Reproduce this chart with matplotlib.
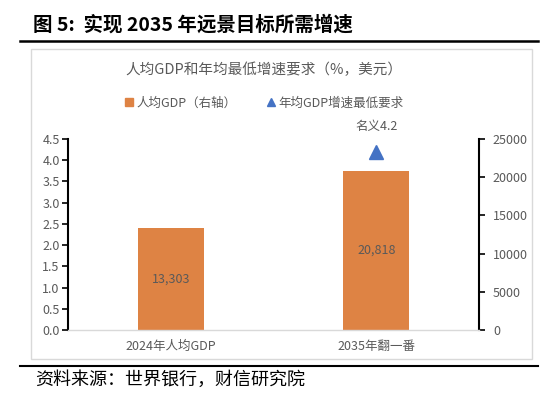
import matplotlib.pyplot as plt
from matplotlib.patches import Rectangle
from matplotlib.lines import Line2D

plt.rcParams['font.family'] = ['Noto Sans CJK SC', 'DejaVu Sans']

categories = ['2024年人均GDP', '2035年翻一番']
gdp_per_capita = [13303, 20818]
gdp_labels = ['13,303', '20,818']
growth_cat = [1]
growth_min = [4.2]
growth_label = ['名义4.2']

W, H = 550, 411
fig = plt.figure(figsize=(5.5, 4.11), dpi=100)

def fx(px):
    return px / W

def fy(py):
    return 1 - py / H

gray = '#595959'
orange = '#DE8344'
blue = '#4472C4'

# header / footer
fig.text(fx(33), fy(25), '图 5:  实现 2035 年远景目标所需增速', fontsize=14,
         fontweight='bold', color='black', va='center', ha='left')
fig.add_artist(Line2D([fx(20), fx(538)], [fy(41), fy(41)], color='black', lw=1.8))
fig.add_artist(Rectangle((fx(31), fy(359)), fx(532) - fx(31), fy(49) - fy(359),
                         transform=fig.transFigure, fill=False, edgecolor='#D9D9D9', lw=1))
fig.add_artist(Line2D([fx(20), fx(538)], [fy(366), fy(366)], color='black', lw=1.5))
fig.text(fx(35), fy(380), '资料来源：世界银行，财信研究院', fontsize=13,
         style='italic', color='black', va='center', ha='left')

# chart title
fig.text(fx(264), fy(70), '人均GDP和年均最低增速要求（%，美元）', fontsize=10.5,
         color=gray, va='center', ha='center')

ax = fig.add_axes([fx(68), fy(330), fx(479) - fx(68), fy(139) - fy(330)])
ax2 = ax.twinx()

x = list(range(len(categories)))
ax2.bar(x, gdp_per_capita, width=0.32, color=orange, zorder=2)
for xi, v, lab in zip(x, gdp_per_capita, gdp_labels):
    ax2.text(xi, v / 2, lab, ha='center', va='center', fontsize=9, color=gray)

ax2.set_ylim(0, 25000)
ax2.set_yticks(range(0, 25001, 5000))
ax.set_ylim(0, 4.5)
ax.set_yticks([i * 0.5 for i in range(10)])
ax.set_yticklabels([f'{i * 0.5:.1f}' for i in range(10)])
ax.set_xlim(-0.5, 1.5)
ax.set_xticks(x)
ax.set_xticklabels(categories)

ax.set_zorder(ax2.get_zorder() + 1)
ax.patch.set_visible(False)
ax.plot(growth_cat, growth_min, linestyle='none', marker='^', markersize=10,
        color=blue, zorder=3, clip_on=False)
for xi, v, lab in zip(growth_cat, growth_min, growth_label):
    ax.text(xi, v + 0.6, lab, ha='center', va='center', fontsize=9, color=gray)

for a in (ax, ax2):
    for s in a.spines.values():
        s.set_visible(False)
ax.spines['left'].set_visible(True)
ax.spines['left'].set_linewidth(1.5)
ax2.spines['right'].set_visible(True)
ax2.spines['right'].set_linewidth(1.5)
ax.spines['bottom'].set_visible(True)
ax.spines['bottom'].set_color('#D9D9D9')
ax.spines['bottom'].set_linewidth(1)

ax.tick_params(axis='y', direction='out', length=4, width=1.2, colors='black',
               labelcolor=gray, labelsize=9, pad=2)
ax2.tick_params(axis='y', direction='out', length=4, width=1.2, colors='black',
                labelcolor=gray, labelsize=9, pad=6)
ax.tick_params(axis='x', length=0, labelcolor=gray, labelsize=9, pad=7)

handles = [
    Line2D([], [], linestyle='none', marker='s', markersize=6, color=orange, label='人均GDP（右轴）'),
    Line2D([], [], linestyle='none', marker='^', markersize=6, color=blue, label='年均GDP增速最低要求'),
]
fig.legend(handles=handles, loc='center', bbox_to_anchor=(fx(263), fy(103)), ncol=2,
           frameon=False, fontsize=9, labelcolor=gray, handletextpad=0.1,
           columnspacing=2.2, handlelength=1)

fig.savefig('out.png', dpi=100)
